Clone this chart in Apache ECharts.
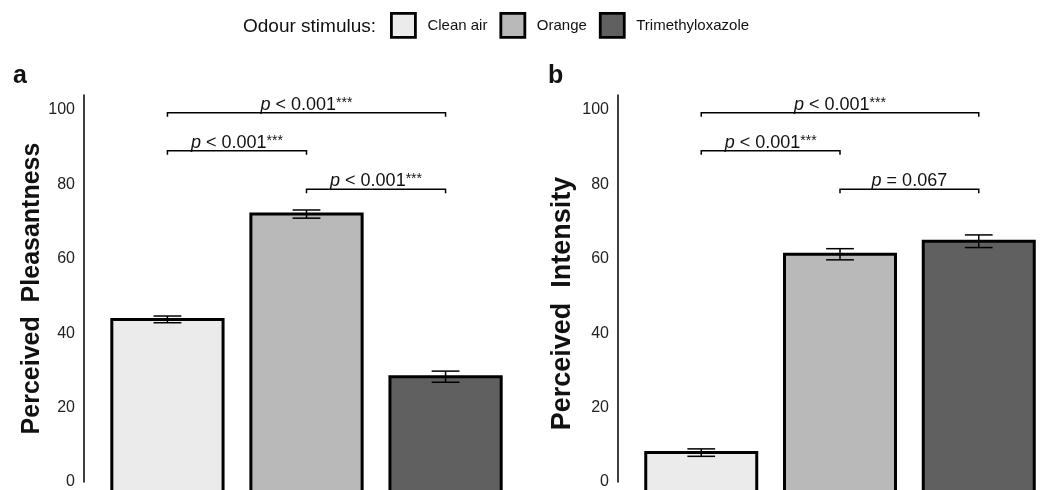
<!DOCTYPE html>
<html>
<head>
<meta charset="utf-8">
<script src="https://cdn.jsdelivr.net/npm/echarts@6/dist/echarts.min.js"></script>
<style>
  html, body { margin: 0; padding: 0; background: #fff; }
  #chart { width: 1062px; height: 490px; }
</style>
</head>
<body>
<div id="chart"></div>
<script>
// data
const stimuli = ['Clean air', 'Orange', 'Trimethyloxazole']
const pleasMean = [43.7, 72.0, 28.3]
const pleasSE = [0.9, 1.1, 1.5]
const intensMean = [7.9, 61.2, 64.7]
const intensSE = [1.0, 1.5, 1.7]

// significance brackets: from / to category, height (axis units), p text, stars
const bracketFrom = [0, 0, 1]
const bracketTo = [2, 1, 2]
const bracketY = [99.2, 89.0, 78.7]
const pTextA = ['< 0.001', '< 0.001', '< 0.001']
const starsA = ['***', '***', '***']
const pTextB = ['< 0.001', '< 0.001', '= 0.067']
const starsB = ['***', '***', '']

const fills = ['#ebebeb', '#b9b9b9', '#606060']
const font = 'Liberation Sans, Arial, sans-serif'

const chart = echarts.init(document.getElementById('chart'))

function renderBar(params, api) {
  const x = api.value(0)
  const m = api.value(1)
  const se = api.value(2)
  const top = api.coord([x, m])
  const base = api.coord([x, 0])
  const w = api.size([0.8, 0])[0]
  const cap = api.size([0.2, 0])[0]
  const hi = api.coord([x, m + se])
  const lo = api.coord([x, m - se])
  const l = top[0] - w / 2
  const r = top[0] + w / 2
  // image is cropped below the baseline, so let the bars run off the bottom
  const bottom = base[1] + 20
  return {
    type: 'group',
    children: [
      { type: 'rect', shape: { x: l, y: top[1], width: w, height: bottom - top[1] }, style: { fill: api.visual('color') } },
      { type: 'polyline', shape: { points: [[l, bottom], [l, top[1]], [r, top[1]], [r, bottom]] }, style: { stroke: '#000', lineWidth: 3, fill: null } },
      { type: 'line', shape: { x1: top[0], y1: hi[1], x2: top[0], y2: lo[1] }, style: { stroke: '#000', lineWidth: 1.5 } },
      { type: 'line', shape: { x1: top[0] - cap / 2, y1: hi[1], x2: top[0] + cap / 2, y2: hi[1] }, style: { stroke: '#000', lineWidth: 1.5 } },
      { type: 'line', shape: { x1: top[0] - cap / 2, y1: lo[1], x2: top[0] + cap / 2, y2: lo[1] }, style: { stroke: '#000', lineWidth: 1.5 } }
    ]
  }
}

function bracketSeries(idx, pTexts, stars) {
  const data = bracketFrom.map((f, i) => [f, bracketTo[i], bracketY[i]])
  return {
    type: 'custom',
    name: 'sig' + idx,
    xAxisIndex: idx,
    yAxisIndex: idx,
    silent: true,
    data: data,
    renderItem: function(params, api) {
      const a = api.coord([api.value(0), api.value(2)])
      const b = api.coord([api.value(1), api.value(2)])
      const i = params.dataIndex
      let txt = '{i|p} ' + pTexts[i]
      if (stars[i]) txt += '{s|' + stars[i] + '}'
      return {
        type: 'group',
        children: [
          { type: 'polyline', shape: { points: [[a[0], a[1] + 4], [a[0], a[1]], [b[0], b[1]], [b[0], b[1] + 4]] }, style: { stroke: '#000', lineWidth: 1.5, fill: null } },
          {
            type: 'text',
            style: {
              x: (a[0] + b[0]) / 2,
              y: a[1] + 1,
              text: txt,
              align: 'center',
              verticalAlign: 'bottom',
              fill: '#111',
              font: '18px ' + font,
              rich: {
                i: { fontStyle: 'italic', fontSize: 18, fontFamily: font, fill: '#111' },
                s: { fontSize: 14, fontFamily: font, verticalAlign: 'top', fill: '#111' }
              }
            }
          }
        ]
      }
    }
  }
}

const series = []
for (let p = 0; p < 2; p++) {
  const means = p === 0 ? pleasMean : intensMean
  const ses = p === 0 ? pleasSE : intensSE
  for (let i = 0; i < stimuli.length; i++) {
    series.push({
      type: 'custom',
      name: stimuli[i],
      xAxisIndex: p,
      yAxisIndex: p,
      itemStyle: { color: fills[i] },
      data: [[i, means[i], ses[i]]],
      renderItem: renderBar
    })
  }
}
series.push(bracketSeries(0, pTextA, starsA))
series.push(bracketSeries(1, pTextB, starsB))

function yAxis(idx, name, gap, size, pad) {
  return {
    type: 'value',
    gridIndex: idx,
    min: 0,
    max: 104,
    interval: 20,
    name: name,
    nameLocation: 'middle',
    nameGap: gap,
    nameTextStyle: { fontSize: size, fontWeight: 'bold', color: '#111', fontFamily: font, padding: pad },
    axisLine: { show: true, onZero: false, lineStyle: { color: '#000', width: 1.5 } },
    axisTick: { show: false },
    splitLine: { show: false },
    axisLabel: { fontSize: 16, color: '#222', margin: 9, fontFamily: font, showMaxLabel: false }
  }
}

const option = {
  animation: false,
  textStyle: { fontFamily: font },
  title: [
    { text: 'Odour stimulus:', left: 243, top: 17, padding: 0, textStyle: { fontSize: 19, fontWeight: 'normal', color: '#111', fontFamily: font } },
    { text: 'a', left: 13, top: 64, padding: 0, textStyle: { fontSize: 25, fontWeight: 'bold', color: '#111', fontFamily: font } },
    { text: 'b', left: 548, top: 64, padding: 0, textStyle: { fontSize: 25, fontWeight: 'bold', color: '#111', fontFamily: font } }
  ],
  legend: {
    data: stimuli,
    left: 390,
    top: 12,
    padding: 0,
    icon: 'rect',
    itemWidth: 24,
    itemHeight: 24,
    itemGap: 12,
    itemStyle: { borderColor: '#000', borderWidth: 2.8 },
    textStyle: { fontSize: 15, color: '#111', fontFamily: font, padding: [4, 0, 0, 7] },
    selectedMode: false
  },
  grid: [
    { left: 84, top: 95, width: 445, bottom: 3 },
    { left: 618, top: 95, width: 445, bottom: 3 }
  ],
  xAxis: [
    { type: 'value', gridIndex: 0, min: -0.6, max: 2.6, show: false },
    { type: 'value', gridIndex: 1, min: -0.6, max: 2.6, show: false }
  ],
  yAxis: [
    yAxis(0, 'Perceived  Pleasantness', 37, 25, 0),
    yAxis(1, 'Perceived  Intensity', 42, 27, [0, 30, 0, 0])
  ],
  series: series
}

chart.setOption(option)
</script>
</body>
</html>
